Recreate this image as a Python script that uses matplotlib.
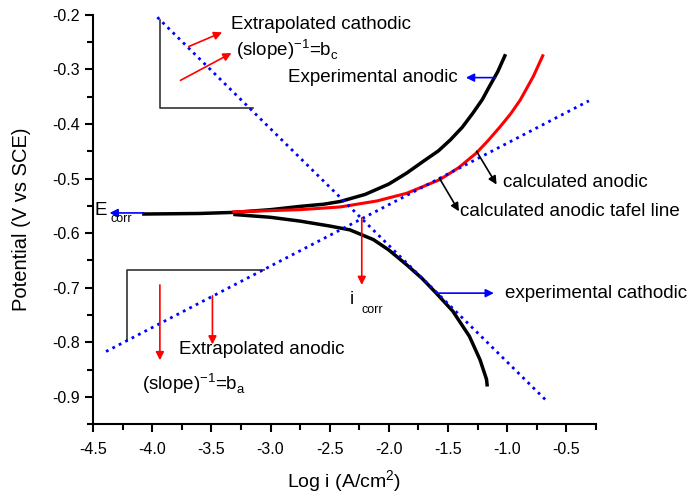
import matplotlib
matplotlib.use("Agg")
import matplotlib.pyplot as plt
from matplotlib.ticker import MultipleLocator, FormatStrFormatter

plt.rcParams['font.family'] = ['Liberation Sans', 'DejaVu Sans']
plt.rcParams['mathtext.fontset'] = 'custom'
plt.rcParams['mathtext.rm'] = 'Liberation Sans'
plt.rcParams['axes.unicode_minus'] = False

# experimental polarisation curve (black)
exp_anodic_x = [-4.07, -3.6, -3.31, -3.0, -2.75, -2.55, -2.41, -2.2, -2.0, -1.85,
                -1.7, -1.58, -1.48, -1.38, -1.29, -1.21, -1.15, -1.08, -1.02]
exp_anodic_y = [-0.565, -0.564, -0.562, -0.557, -0.551, -0.547, -0.542, -0.529, -0.510, -0.490,
                -0.467, -0.449, -0.429, -0.406, -0.380, -0.355, -0.331, -0.304, -0.275]
exp_cathodic_x = [-3.3, -3.0, -2.75, -2.5, -2.33, -2.13, -2.0, -1.85, -1.72, -1.6,
                  -1.46, -1.32, -1.23, -1.175, -1.17]
exp_cathodic_y = [-0.566, -0.571, -0.578, -0.587, -0.594, -0.612, -0.631, -0.658, -0.683, -0.710,
                  -0.743, -0.789, -0.832, -0.868, -0.878]

# calculated anodic curve (red)
calc_x = [-3.31, -2.75, -2.41, -2.1, -1.85, -1.57, -1.41, -1.26, -1.16, -1.06, -0.97, -0.89, -0.78, -0.70]
calc_y = [-0.561, -0.557, -0.552, -0.541, -0.527, -0.502, -0.480, -0.453, -0.430, -0.405, -0.381, -0.356, -0.313, -0.275]

# extrapolated tafel lines (blue dotted)
tafel_c_x = [-4.0, -0.66]
tafel_c_y = [-0.195, -0.909]
tafel_a_x = [-4.39, -0.31]
tafel_a_y = [-0.817, -0.3575]

# slope triangles
bracket_c_x = [-3.938, -3.938, -3.151]
bracket_c_y = [-0.209, -0.371, -0.371]
bracket_a_x = [-4.216, -4.216, -3.058]
bracket_a_y = [-0.798, -0.668, -0.668]

fig = plt.figure(figsize=(6.89, 4.96), dpi=100)
ax = fig.add_axes([0.135, 0.145, 0.73, 0.825])

ax.plot(bracket_c_x, bracket_c_y, color='#333333', lw=1.2)
ax.plot(bracket_a_x, bracket_a_y, color='#333333', lw=1.2)

ax.plot(exp_anodic_x, exp_anodic_y, color='black', lw=2.5)
ax.plot(exp_cathodic_x, exp_cathodic_y, color='black', lw=2.5)
ax.plot(calc_x, calc_y, color='red', lw=2.2)

ax.plot(tafel_c_x, tafel_c_y, color='blue', lw=2, linestyle=(0, (1, 1.6)))
ax.plot(tafel_a_x, tafel_a_y, color='blue', lw=2, linestyle=(0, (1, 1.6)))


def arrow(start, end, color):
    ax.annotate('', xy=end, xytext=start,
                arrowprops=dict(arrowstyle='-|>', color=color, lw=1.2,
                                mutation_scale=12, shrinkA=0, shrinkB=0))


# red arrows
arrow((-3.691, -0.258), (-3.409, -0.232), 'red')
arrow((-3.761, -0.320), (-3.330, -0.270), 'red')
arrow((-3.935, -0.695), (-3.935, -0.833), 'red')
arrow((-3.491, -0.715), (-3.491, -0.804), 'red')
arrow((-2.229, -0.572), (-2.229, -0.695), 'red')
# blue arrows
arrow((-4.07, -0.563), (-4.36, -0.563), 'blue')
arrow((-1.099, -0.315), (-1.349, -0.315), 'blue')
arrow((-1.588, -0.710), (-1.113, -0.710), 'blue')
# black arrows
arrow((-1.259, -0.450), (-1.090, -0.511), 'black')
arrow((-1.574, -0.499), (-1.408, -0.560), 'black')

fs = 13.5
sub = 9
ax.text(-3.338, -0.218, 'Extrapolated cathodic', fontsize=fs, va='center')
ax.text(-3.296, -0.264, r'(slope)$^{\mathrm{-1}}$=b$_{\mathrm{c}}$', fontsize=fs, va='center')
ax.text(-2.856, -0.314, 'Experimental anodic', fontsize=fs, va='center')
ax.text(-1.034, -0.508, 'calculated anodic', fontsize=fs, va='center')
ax.text(-1.40, -0.561, 'calculated anodic tafel line', fontsize=fs, va='center')
ax.text(-4.49, -0.559, 'E', fontsize=fs, va='center')
ax.text(-4.35, -0.575, 'corr', fontsize=sub, va='center')
ax.text(-2.33, -0.722, 'i', fontsize=fs, va='center')
ax.text(-2.23, -0.740, 'corr', fontsize=sub, va='center')
ax.text(-1.02, -0.710, 'experimental cathodic', fontsize=fs, va='center')
ax.text(-3.775, -0.814, 'Extrapolated anodic', fontsize=fs, va='center')
ax.text(-4.083, -0.875, r'(slope)$^{\mathrm{-1}}$=b$_{\mathrm{a}}$', fontsize=fs, va='center')

ax.set_xlim(-4.5, -0.25)
ax.set_ylim(-0.95, -0.2)
ax.xaxis.set_major_locator(MultipleLocator(0.5))
ax.xaxis.set_minor_locator(MultipleLocator(0.25))
ax.yaxis.set_major_locator(MultipleLocator(0.1))
ax.yaxis.set_minor_locator(MultipleLocator(0.05))
ax.xaxis.set_major_formatter(FormatStrFormatter('%.1f'))
ax.yaxis.set_major_formatter(FormatStrFormatter('%.1f'))
ax.tick_params(which='major', direction='out', length=6, width=1.5, labelsize=11.5)
ax.tick_params(axis='x', which='major', pad=7)
ax.tick_params(which='minor', direction='out', length=4, width=1.5)
for s in ['top', 'right']:
    ax.spines[s].set_visible(False)
for s in ['left', 'bottom']:
    ax.spines[s].set_linewidth(1.5)

ax.set_xlabel(r'Log i (A/cm$^{\mathrm{2}}$)', fontsize=14, labelpad=8)
ax.set_ylabel('Potential (V vs SCE)', fontsize=14.5, labelpad=15)

fig.savefig('out.png', dpi=100)
